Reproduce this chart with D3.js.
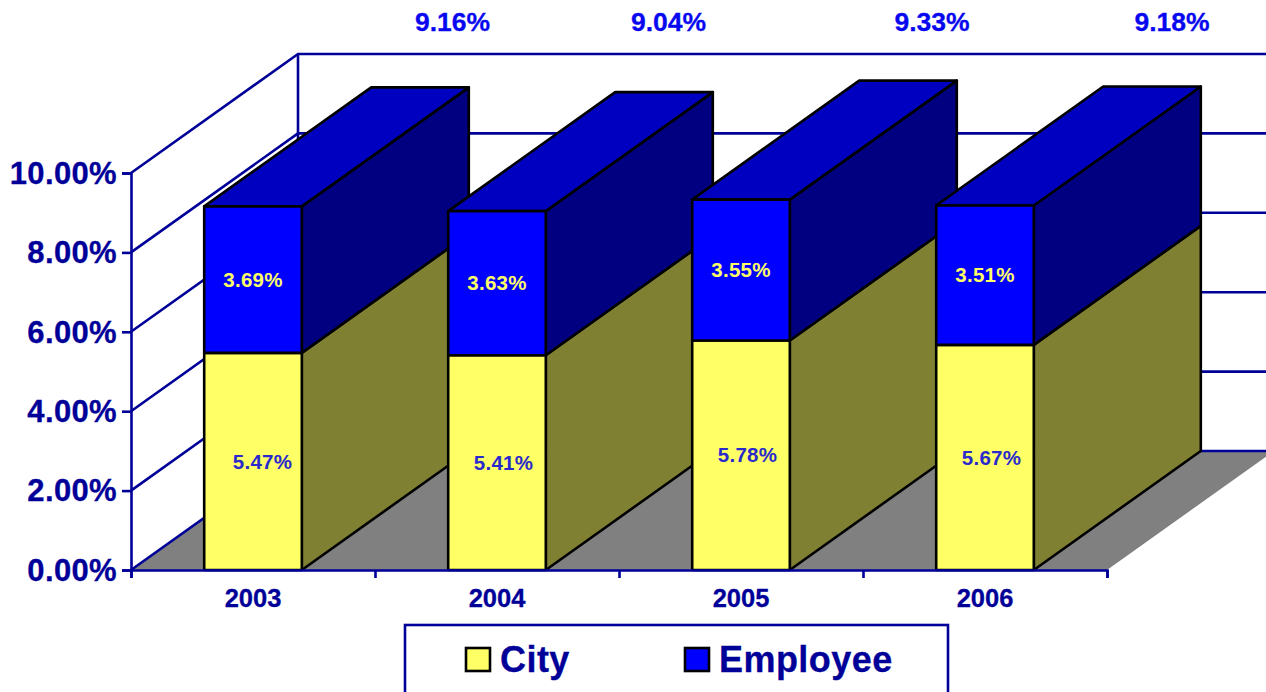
<!DOCTYPE html>
<html>
<head>
<meta charset="utf-8">
<script src="https://d3js.org/d3.v7.min.js"></script>
<style>
    html, body { margin: 0; padding: 0; background: #fff; overflow: hidden; }
    svg { display: block; }
    text { font-family: "Liberation Sans", Arial, sans-serif; font-weight: bold; stroke-width: 0.3px; paint-order: stroke; }
</style>
</head>
<body>
<svg width="1266" height="692"></svg>
<script>
const years = ["2003", "2004", "2005", "2006"];
const city = [5.47, 5.41, 5.78, 5.67];
const employee = [3.69, 3.63, 3.55, 3.51];
const totals = [9.16, 9.04, 9.33, 9.18];
const yTicks = [0, 2, 4, 6, 8, 10];
const seriesNames = ["City", "Employee"];

const AXIS = "#000099";
const colors = {
    city: { front: "#ffff66", side: "#808033" },
    employee: { front: "#0000ff", side: "#000080", top: "#0000c0" }
};

const svg = d3.select("svg");
const depth = { x: 167, y: 119 };

const scaleX = d3.scaleBand()
    .domain(years)
    .range([131, 1107])
    .paddingInner(0.6)
    .paddingOuter(0.3);

const scaleY = d3.scaleLinear()
    .domain([0, 10])
    .range([570, 173]);

const edgeX = d3.scaleLinear()
    .domain([0, years.length])
    .range([131, 1107]);

const poly = pts => "M" + pts.map(p => p.join(",")).join("L") + "Z";
const back = p => [p[0] + depth.x, p[1] - depth.y];

// floor
const x0 = edgeX(0), x1 = edgeX(years.length), y0 = scaleY(0);
svg.append("path")
    .attr("d", poly([[x0, y0], [x1, y0], back([x1, y0]), back([x0, y0])]))
    .attr("fill", "#808080");

// walls: grid lines
const grid = svg.append("g")
    .attr("fill", "none")
    .attr("stroke", AXIS)
    .attr("stroke-width", 2.6);

yTicks.forEach(t => {
    const y = scaleY(t);
    grid.append("path")
        .attr("d", `M${x0},${y}L${x0 + depth.x},${y - depth.y}L1266,${y - depth.y}`);
});
grid.append("line")
    .attr("x1", x0 + depth.x)
    .attr("x2", x0 + depth.x)
    .attr("y1", scaleY(10) - depth.y)
    .attr("y2", scaleY(0) - depth.y);

// bars
function drawBox(g, x, w, yBottom, yTop, c) {
    const a = [x, yBottom], b = [x + w, yBottom], d = [x + w, yTop], e = [x, yTop];
    g.append("path").attr("d", poly([b, back(b), back(d), d])).attr("fill", c.side);
    if (c.top) {
        g.append("path").attr("d", poly([e, d, back(d), back(e)])).attr("fill", c.top);
    }
    g.append("path").attr("d", poly([a, b, d, e])).attr("fill", c.front);
}

const barG = svg.append("g")
    .attr("stroke", "#000")
    .attr("stroke-width", 2.6)
    .attr("stroke-linejoin", "round");

years.forEach((year, i) => {
    const x = scaleX(year);
    const w = scaleX.bandwidth();
    const g = barG.append("g");
    drawBox(g, x, w, scaleY(0), scaleY(city[i]), colors.city);
    drawBox(g, x, w, scaleY(city[i]), scaleY(city[i] + employee[i]), colors.employee);
});

// axes
const axisY = d3.axisLeft(scaleY)
    .tickValues(yTicks)
    .tickFormat(d => d.toFixed(2) + "%")
    .tickSize(9)
    .tickPadding(5);

const gY = svg.append("g")
    .attr("transform", `translate(${x0}, 0)`)
    .call(axisY);
gY.selectAll("text")
    .style("font-size", "31px")
    .style("letter-spacing", "0.35px")
    .attr("dy", ".33em")
    .attr("fill", AXIS)
    .attr("stroke", AXIS);

const axisEdges = d3.axisBottom(edgeX)
    .tickValues(d3.range(years.length + 1))
    .tickFormat("")
    .tickSize(8);

const gX = svg.append("g")
    .attr("transform", `translate(0, ${y0})`)
    .call(axisEdges);

const axisYears = d3.axisBottom(scaleX)
    .tickSize(0)
    .tickPadding(19);

const gYears = svg.append("g")
    .attr("transform", `translate(0, ${y0})`)
    .call(axisYears);
gYears.select(".domain").remove();
gYears.selectAll("text")
    .style("font-size", "25.5px")
    .attr("fill", AXIS)
    .attr("stroke", AXIS);

[gY, gX].forEach(g => {
    g.selectAll(".domain, line")
        .attr("stroke", AXIS)
        .attr("stroke-width", 2.6);
});

// data labels
const center = year => scaleX(year) + scaleX.bandwidth() / 2;
const cityShift = [9.5, 6.5, 6.5, 6.5];
const totalShift = [199.5, 171.5, 191, 187];

const labels = svg.append("g")
    .attr("text-anchor", "middle")
    .style("font-size", "20.5px")
    .style("letter-spacing", "0.25px");

labels.selectAll(".city-label")
    .data(city)
    .enter()
    .append("text")
    .attr("class", "city-label")
    .attr("x", (d, i) => center(years[i]) + cityShift[i])
    .attr("y", d => (scaleY(0) + scaleY(d)) / 2)
    .attr("dy", ".35em")
    .attr("fill", "#2a2acc")
    .text(d => d.toFixed(2) + "%");

labels.selectAll(".employee-label")
    .data(employee)
    .enter()
    .append("text")
    .attr("class", "employee-label")
    .attr("x", (d, i) => center(years[i]))
    .attr("y", (d, i) => (scaleY(city[i]) + scaleY(city[i] + d)) / 2)
    .attr("dy", ".35em")
    .attr("fill", "#ffff66")
    .text(d => d.toFixed(2) + "%");

svg.append("g")
    .attr("text-anchor", "middle")
    .style("font-size", "26.5px")
    .selectAll("text")
    .data(totals)
    .enter()
    .append("text")
    .attr("x", (d, i) => center(years[i]) + totalShift[i])
    .attr("y", 31)
    .attr("fill", "#0808f0")
    .attr("stroke", "#0808f0")
    .text(d => d.toFixed(2) + "%");

// legend
const legend = svg.append("g");
legend.append("rect")
    .attr("x", 405)
    .attr("y", 625)
    .attr("width", 543)
    .attr("height", 90)
    .attr("fill", "#fff")
    .attr("stroke", AXIS)
    .attr("stroke-width", 2.6);

const legendX = [466, 685];
const legendFill = [colors.city.front, colors.employee.front];

seriesNames.forEach((name, i) => {
    legend.append("rect")
        .attr("x", legendX[i])
        .attr("y", 648)
        .attr("width", 24)
        .attr("height", 23)
        .attr("fill", legendFill[i])
        .attr("stroke", "#000")
        .attr("stroke-width", 2.6);
    legend.append("text")
        .attr("x", legendX[i] + 34)
        .attr("y", 672)
        .attr("fill", AXIS)
        .attr("stroke", AXIS)
        .style("font-size", "36px")
        .style("letter-spacing", "0.45px")
        .text(name);
});
</script>
</body>
</html>
